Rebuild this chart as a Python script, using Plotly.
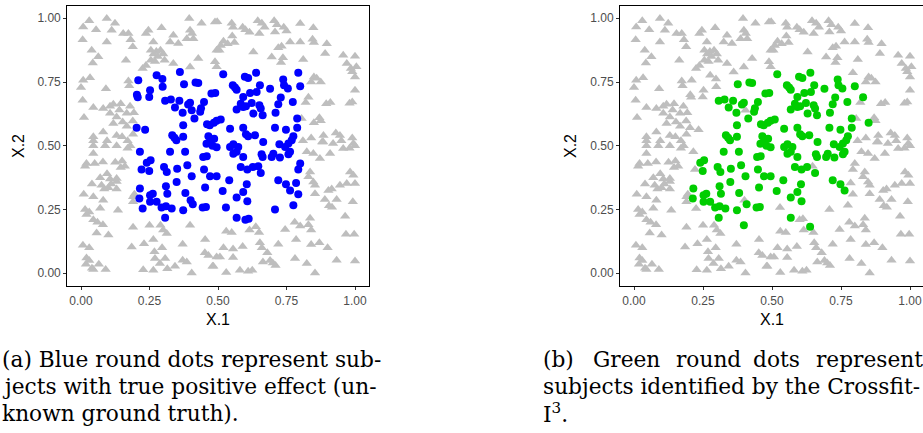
import plotly.graph_objects as go

# ---- data (X.1, X.2) grouped by (true positive effect, identified by Crossfit-I3) ----
# gray in both panels: no true effect, not identified
neg_neg = [
    (0.094,0.999),(0.124,0.98),(0.03,0.99),(0.008,0.966),(0.055,0.955),(0.112,0.953),(0.154,0.94),(0.173,0.94),
    (0.246,0.953),(0.237,0.94),(0.294,0.963),(0.395,0.999),(0.44,0.98),(0.489,0.985),(0.398,0.953),(0.405,0.94),
    (0.337,0.933),(0.006,0.916),(0.094,0.907),(0.181,0.916),(0.189,0.888),(0.264,0.907),(0.325,0.907),(0.355,0.901),
    (0.386,0.92),(0.41,0.92),(0.495,0.875),(0.039,0.875),(0.063,0.849),(0.043,0.825),
    (0.255,0.875),(0.265,0.86),(0.275,0.87),(0.29,0.875),(0.30,0.86),(0.28,0.85),(0.255,0.835),(0.27,0.83),(0.305,0.835),
    (0.164,0.835),(0.225,0.803),(0.237,0.815),(0.337,0.823),(0.398,0.809),(0.428,0.842),(0.489,0.829),(0.495,0.81),
    (0.497,0.986),(0.55,0.98),(0.555,0.965),(0.59,0.965),(0.60,0.955),(0.615,0.945),(0.645,0.99),(0.66,0.98),
    (0.67,0.965),(0.705,0.99),(0.715,0.975),(0.74,0.965),(0.75,0.95),(0.80,0.979),(0.848,0.963),(0.651,0.94),
    (0.708,0.946),(0.552,0.93),(0.56,0.905),(0.535,0.9),(0.52,0.91),(0.505,0.875),(0.51,0.893),(0.629,0.868),
    (0.696,0.848),(0.72,0.884),(0.732,0.89),(0.763,0.907),(0.80,0.907),(0.845,0.918),(0.85,0.905),(0.897,0.9),
    (0.891,0.862),(0.957,0.855),(1.0,0.851),(0.97,0.823),(0.985,0.803),(0.99,0.79),(1.0,0.77),(1.005,0.81),
    (0.73,0.826),(0.737,0.845),(0.811,0.838),
    (0.85,0.77),(0.86,0.765),(0.875,0.75),(0.84,0.75),(1.0,0.718),(0.98,0.667),(0.99,0.672),(0.91,0.67),
    (0.895,0.665),(0.82,0.67),(0.87,0.61),(0.875,0.598),(0.805,0.607),(0.81,0.52),(0.84,0.53),(0.885,0.54),
    (0.88,0.515),(0.93,0.55),(0.945,0.54),(0.95,0.52),(0.99,0.53),(1.0,0.5),(0.98,0.49),
    (0.008,0.757),(0.033,0.767),(0.0,0.728),(0.091,0.724),(0.173,0.754),(0.176,0.735),(0.006,0.678),(0.045,0.65),
    (0.011,0.611),(0.081,0.646),
    (0.106,0.655),(0.118,0.663),(0.145,0.665),(0.14,0.64),(0.106,0.627),(0.13,0.613),(0.167,0.627),(0.179,0.655),
    (0.193,0.629),(0.152,0.593),(0.118,0.587),(0.167,0.576),(0.189,0.597),
    (0.045,0.535),(0.081,0.554),(0.045,0.52),(0.045,0.50),(0.095,0.52),(0.13,0.54),(0.15,0.535),(0.17,0.52),
    (0.18,0.50),(0.17,0.49),(0.19,0.545),(0.045,0.47),(0.088,0.50),(0.13,0.50),
    (0.02,0.43),(0.015,0.42),(0.05,0.43),(0.08,0.436),(0.125,0.435),(0.15,0.44),(0.16,0.42),(0.145,0.415),
    (0.095,0.39),(0.106,0.37),(0.07,0.375),(0.13,0.372),(0.04,0.35),(0.075,0.345),(0.11,0.35),(0.13,0.36),
    (0.13,0.33),(0.085,0.33),(0.1,0.335),
    (0.01,0.31),(0.045,0.30),(0.081,0.286),
    (0.015,0.25),(0.03,0.24),(0.02,0.23),(0.045,0.21),(0.06,0.2),(0.07,0.255),(0.135,0.247),(0.19,0.30),
    (0.195,0.31),(0.19,0.28),(0.08,0.19),(0.1,0.15),(0.19,0.18),
    (0.25,0.188),(0.29,0.188),(0.3,0.17),(0.057,0.158),(0.313,0.156),
    (0.007,0.11),(0.03,0.10),(0.185,0.103),(0.23,0.116),(0.264,0.132),(0.296,0.10),(0.268,0.084),(0.371,0.114),
    (0.453,0.132),(0.452,0.08),(0.465,0.07),(0.495,0.064),
    (0.02,0.06),(0.03,0.05),(0.018,0.035),(0.04,0.02),(0.065,0.035),(0.09,0.015),(0.045,0.015),
    (0.227,0.014),(0.264,0.012),(0.27,0.058),(0.288,0.038),(0.307,0.058),(0.315,0.018),(0.343,0.027),(0.371,0.051),
    (0.386,0.044),(0.404,0.001),(0.483,0.027),
    (0.824,0.476),(0.848,0.47),(0.872,0.45),(0.909,0.47),(0.957,0.489),(0.994,0.509),(0.92,0.509),(0.884,0.515),
    (0.836,0.397),(0.83,0.378),(0.848,0.358),(0.854,0.345),
    (0.903,0.325),(0.915,0.33),(0.945,0.345),(0.97,0.352),(0.982,0.397),(0.994,0.384),(1.0,0.352),
    (0.854,0.312),(0.89,0.289),(0.933,0.289),(0.916,0.259),(0.905,0.265),(0.992,0.28),
    (0.836,0.216),(0.83,0.19),(0.84,0.17),(0.78,0.20),(0.80,0.185),(0.745,0.172),(0.964,0.224),(0.967,0.153),
    (0.997,0.153),(0.53,0.165),(0.55,0.16),(0.615,0.17),(0.65,0.16),(0.785,0.132),(0.84,0.113),(0.87,0.12),
    (0.9,0.10),(0.52,0.10),(0.555,0.095),(0.59,0.105),(0.653,0.12),(0.66,0.10),(0.68,0.08),(0.72,0.114),
    (0.507,0.064),(0.555,0.062),(0.69,0.05),(0.70,0.04),(0.71,0.03),(0.781,0.058),(0.824,0.038),(0.933,0.051),
    (1.0,0.048),(0.854,0.001),(0.48,0.027),(0.53,0.003),(0.58,0.012),(0.61,0.008),(0.625,0.012),(0.664,0.044),
]
# gray in (a), green in (b): no true effect but identified
neg_pos = [(0.83,0.69),(0.85,0.59),(0.398,0.188),(0.638,0.182)]
# blue in (a), gray in (b): true effect, not identified
pos_neg = [
    (0.361,0.789),(0.209,0.757),(0.276,0.776),(0.297,0.762),(0.298,0.731),(0.252,0.718),(0.204,0.70),(0.207,0.69),
    (0.249,0.691),(0.404,0.639),(0.203,0.571),(0.234,0.563),(0.215,0.476),(0.221,0.407),(0.4,0.286),(0.225,0.254),
    (0.793,0.786),(0.8,0.43),(0.793,0.407),(0.647,0.42),(0.785,0.354),(0.793,0.31),(0.529,0.258),(0.775,0.267),
    (0.708,0.25),(0.60,0.21),(0.612,0.214),
]
# blue in (a), green in (b): true effect and identified
pos_pos = [
    (0.376,0.741),(0.418,0.748),(0.428,0.746),(0.307,0.676),(0.328,0.681),(0.359,0.676),(0.343,0.65),(0.391,0.662),
    (0.398,0.669),(0.449,0.672),(0.438,0.647),(0.435,0.633),(0.371,0.629),(0.414,0.607),(0.476,0.705),(0.49,0.707),
    (0.485,0.59),(0.495,0.598),(0.51,0.603),(0.373,0.58),(0.46,0.584),(0.47,0.58),(0.333,0.541),(0.341,0.531),
    (0.348,0.522),(0.373,0.535),(0.465,0.537),(0.472,0.516),(0.486,0.527),(0.48,0.50),(0.495,0.494),(0.458,0.508),
    (0.519,0.78),(0.598,0.771),(0.61,0.766),(0.639,0.786),(0.738,0.76),(0.554,0.737),(0.562,0.728),(0.568,0.72),
    (0.653,0.737),(0.69,0.724),(0.741,0.737),(0.755,0.725),(0.80,0.733),(0.617,0.707),(0.641,0.711),(0.592,0.691),
    (0.729,0.689),(0.773,0.672),(0.583,0.665),(0.592,0.652),(0.602,0.655),(0.568,0.642),(0.623,0.668),(0.651,0.659),
    (0.656,0.646),(0.72,0.663),(0.629,0.626),(0.663,0.62),(0.71,0.629),(0.789,0.607),(0.544,0.567),(0.592,0.571),
    (0.708,0.571),(0.748,0.563),(0.789,0.571),(0.602,0.545),(0.61,0.537),(0.635,0.541),(0.775,0.537),(0.769,0.522),
    (0.757,0.509),(0.745,0.495),(0.665,0.515),(0.724,0.506),(0.544,0.495),(0.556,0.506),(0.574,0.495),
    (0.325,0.476),(0.38,0.476),(0.446,0.456),(0.459,0.459),(0.24,0.433),(0.254,0.443),(0.249,0.401),(0.303,0.417),
    (0.313,0.397),(0.351,0.41),(0.388,0.424),(0.404,0.38),(0.449,0.407),(0.471,0.38),(0.495,0.38),(0.349,0.358),
    (0.31,0.341),(0.215,0.332),(0.453,0.336),(0.315,0.312),(0.381,0.315),(0.213,0.293),(0.252,0.306),(0.262,0.312),
    (0.252,0.28),(0.276,0.28),(0.408,0.271),(0.294,0.258),(0.31,0.263),(0.331,0.254),(0.373,0.247),(0.444,0.258),
    (0.456,0.26),(0.307,0.218),
    (0.556,0.469),(0.568,0.476),(0.592,0.456),(0.659,0.467),(0.663,0.456),(0.702,0.469),(0.696,0.456),(0.726,0.454),
    (0.757,0.467),(0.763,0.476),(0.583,0.417),(0.607,0.407),(0.627,0.417),(0.656,0.393),(0.541,0.365),(0.605,0.349),
    (0.72,0.365),(0.748,0.349),(0.763,0.325),(0.517,0.323),(0.592,0.319),(0.568,0.297),(0.607,0.282),(0.568,0.218),
]

tick_vals = [0.0, 0.25, 0.5, 0.75, 1.0]
tick_text = ["0.00", "0.25", "0.50", "0.75", "1.00"]

GRAY = "#BEBEBE"
BLUE = "#0000FF"
GREEN = "#00CD00"

W, H = 923, 433


def xs(pts):
    return [p[0] for p in pts]


def ys(pts):
    return [p[1] for p in pts]


fig = go.Figure()

gray_a = neg_neg + neg_pos
blue_a = pos_pos + pos_neg
gray_b = neg_neg + pos_neg
green_b = pos_pos + neg_pos

tri = dict(symbol="triangle-up", size=9, color=GRAY, line=dict(width=0))
fig.add_trace(go.Scatter(x=xs(gray_a), y=ys(gray_a), mode="markers", marker=tri, xaxis="x", yaxis="y", showlegend=False))
fig.add_trace(go.Scatter(x=xs(blue_a), y=ys(blue_a), mode="markers",
                         marker=dict(symbol="circle", size=8, color=BLUE, line=dict(width=0)),
                         xaxis="x", yaxis="y", showlegend=False))
fig.add_trace(go.Scatter(x=xs(gray_b), y=ys(gray_b), mode="markers", marker=tri, xaxis="x2", yaxis="y2", showlegend=False))
fig.add_trace(go.Scatter(x=xs(green_b), y=ys(green_b), mode="markers",
                         marker=dict(symbol="circle", size=8, color=GREEN, line=dict(width=0)),
                         xaxis="x2", yaxis="y2", showlegend=False))

# panel geometry in pixels
y_top, y_bot = 5.5, 286.0
ydom = [(H - y_bot) / H, (H - y_top) / H]
xl0, xl1 = 67.3, 368.7
xr0 = 620.2
r_scale = 276.0
r_max = -0.05 + (W - xr0) / r_scale

axis_common = dict(
    showgrid=False, zeroline=False, showline=True, linecolor="black", linewidth=1.2,
    ticks="outside", ticklen=3, tickwidth=1, tickcolor="#333333",
    tickvals=tick_vals, ticktext=tick_text,
    tickfont=dict(family="Liberation Sans, Arial, sans-serif", size=12, color="#4D4D4D"),
)

fig.update_layout(
    width=W, height=H,
    margin=dict(l=0, r=0, t=0, b=0),
    paper_bgcolor="white", plot_bgcolor="white",
    xaxis=dict(domain=[xl0 / W, xl1 / W], range=[-0.05, 1.05], anchor="y", mirror=True, **axis_common),
    yaxis=dict(domain=ydom, range=[-0.05, 1.05], anchor="x", mirror=True, **axis_common),
    xaxis2=dict(domain=[xr0 / W, 1.0], range=[-0.05, r_max], anchor="y2", mirror=True, **axis_common),
    yaxis2=dict(domain=ydom, range=[-0.05, 1.05], anchor="x2", mirror=False, **axis_common),
)

annotations = []
title_font = dict(family="Liberation Sans, Arial, sans-serif", size=16, color="black")
for cx, yx in [(218, 18), (772, 570)]:
    annotations.append(dict(text="X.1", x=cx / W, y=1 - 319 / H, xref="paper", yref="paper",
                            showarrow=False, xanchor="center", yanchor="middle", font=title_font))
    annotations.append(dict(text="X.2", x=yx / W, y=1 - 146 / H, xref="paper", yref="paper",
                            showarrow=False, xanchor="center", yanchor="middle", textangle=-90, font=title_font))

cap_font = dict(family="DejaVu Serif, serif", size=21.7, color="black")
caption_parts = [
    # (text, left px, centre y px)
    ("(a) Blue round dots represent sub-", 1, 359),
    ("jects with true positive effect (un-", 1, 386),
    ("known ground truth).", 1, 413),
    ("(b)", 542, 359), ("Green", 592, 359), ("round", 675, 359), ("dots", 752, 359), ("represent", 815, 359),
    ("subjects identified by the Crossfit-", 542, 386),
    ("I<sup>3</sup>.", 542, 413),
]
for txt, px, py in caption_parts:
    annotations.append(dict(text=txt, x=px / W, y=1 - py / H, xref="paper", yref="paper", showarrow=False,
                            xanchor="left", yanchor="middle", font=cap_font, borderpad=0))

fig.update_layout(annotations=annotations)

fig.write_html(
    "out.html",
    config={"displayModeBar": False},
    post_script="document.body.style.margin='0';document.body.style.overflow='hidden';"
                "document.documentElement.style.overflow='hidden';",
)
